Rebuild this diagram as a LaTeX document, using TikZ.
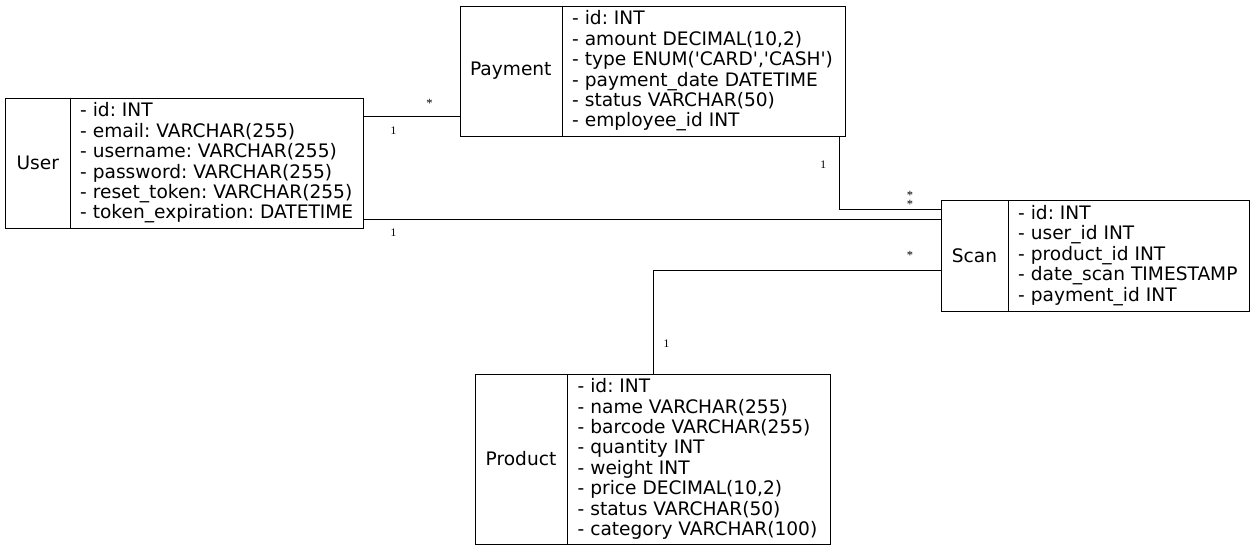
\documentclass[tikz,border=0pt]{standalone}
\usepackage{fontspec}
\setmainfont{DejaVu Sans}
\newfontfamily\lblfont{Liberation Serif}
\usetikzlibrary{calc}
\frenchspacing
\tikzset{
  rec/.style={draw=black, line width=1pt, rectangle, inner sep=0pt, anchor=north west},
  ttl/.style={inner sep=0pt, font=\fontsize{18.6}{20.4}\selectfont},
  flds/.style={inner sep=0pt, anchor=west, align=left, font=\fontsize{18.6}{20.4}\selectfont},
  conn/.style={draw=black, line width=1pt},
  card/.style={inner sep=0pt, font=\lblfont\fontsize{11.5}{12}\selectfont},
  star/.style={inner sep=0pt, font=\lblfont\fontsize{12.5}{12.5}\selectfont},
}
\begin{document}
\begin{tikzpicture}[x=1pt,y=-1pt]
\useasboundingbox (0,0) rectangle (1255,551);
% User
\node[rec, minimum width=358pt, minimum height=130pt] (u) at (5,98) {};
\draw[conn] (70.5,98) coordinate (ud1) -- (ud1 |- u.south);
\node[ttl] (ut) at (37.8,163) {User};
\node[flds] (uf) at (80,163) {- id: INT\\- email: VARCHAR(255)\\- username: VARCHAR(255)\\- password: VARCHAR(255)\\- reset\_token: VARCHAR(255)\\- token\_expiration: DATETIME};
% Payment
\node[rec, minimum width=385pt, minimum height=130pt] (pay) at (459.5,6) {};
\draw[conn] (562,6) coordinate (pd1) -- (pd1 |- pay.south);
\node[ttl] (pt) at (510.8,71) {Payment};
\node[flds] (pf) at (572,71) {- id: INT\\- amount DECIMAL(10,2)\\- type ENUM(\textquotesingle CARD\textquotesingle,\textquotesingle CASH\textquotesingle)\\- payment\_date DATETIME\\- status VARCHAR(50)\\- employee\_id INT};
% Scan
\node[rec, minimum width=308pt, minimum height=111pt] (scan) at (941,200) {};
\draw[conn] (1008,200) coordinate (sd1) -- (sd1 |- scan.south);
\node[ttl] (st) at (974.5,255.5) {Scan};
\node[flds] (sf) at (1018,255.5) {- id: INT\\- user\_id INT\\- product\_id INT\\- date\_scan TIMESTAMP\\- payment\_id INT};
% Product
\node[rec, minimum width=355.5pt, minimum height=170pt] (prod) at (474.5,374) {};
\draw[conn] (567.5,374) coordinate (prd1) -- (prd1 |- prod.south);
\node[ttl] (prt) at (521,459) {Product};
\node[flds] (prf) at (577.5,459) {- id: INT\\- name VARCHAR(255)\\- barcode VARCHAR(255)\\- quantity INT\\- weight INT\\- price DECIMAL(10,2)\\- status VARCHAR(50)\\- category VARCHAR(100)};
% connectors
\draw[conn] ($(u.north east)+(0,18.7)$) coordinate (e1) -- (e1 -| pay.west);
\draw[conn] ($(pay.south east)+(-6,0)$) |- ($(scan.north west)+(0,9.3)$);
\draw[conn] ($(u.south east)+(0,-9.5)$) coordinate (e3) -- (e3 -| scan.west);
\draw[conn] ($(prod.north west)+(178.5,0)$) |- ($(scan.north west)+(0,70)$);
% cardinalities
\node[star] (c1) at (429.5,103) {*};
\node[card] (c2) at (393.5,130.5) {1};
\node[card] (c3) at (823.3,165) {1};
\node[star] (c4) at (910,195.2) {*};
\node[star] (c5) at (910,204.6) {*};
\node[card] (c6) at (393.5,232.7) {1};
\node[star] (c7) at (910,255.2) {*};
\node[card] (c8) at (666.5,343.3) {1};
\end{tikzpicture}
\end{document}
